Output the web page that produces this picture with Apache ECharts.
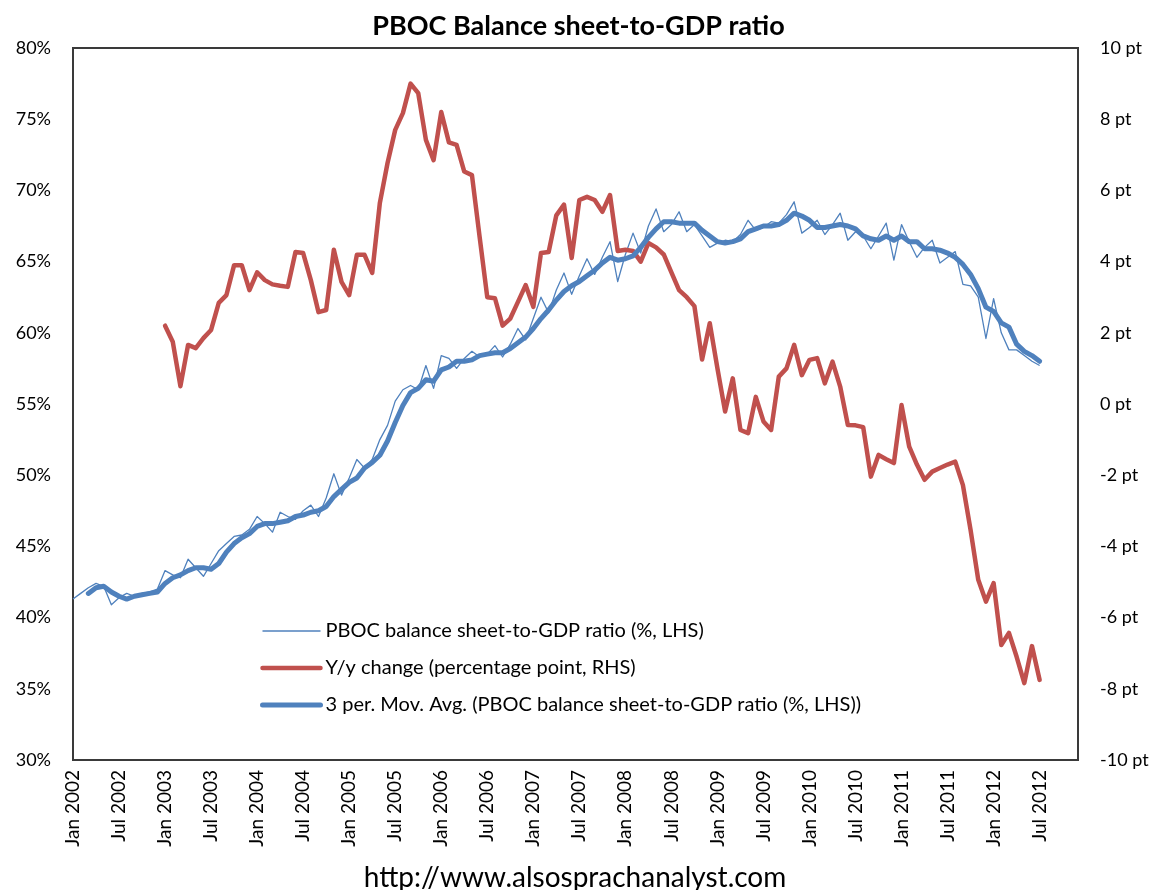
<!DOCTYPE html>
<html>
<head>
<meta charset="utf-8">
<title>PBOC Balance sheet-to-GDP ratio</title>
<script src="https://cdn.jsdelivr.net/npm/echarts@6/dist/echarts.min.js"></script>
<style>
  html, body { margin: 0; padding: 0; background: #fff; }
  #chart { width: 1157px; height: 890px; }
</style>
</head>
<body>
<div id="chart"></div>
<script>
var months = ['Jan','Feb','Mar','Apr','May','Jun','Jul','Aug','Sep','Oct','Nov','Dec'];
var years = [2002,2003,2004,2005,2006,2007,2008,2009,2010,2011,2012];

// PBOC balance sheet-to-GDP ratio, %, Jan 2002 - Jul 2012 (monthly)
var ratio = [
  41.3, 41.7, 42.1, 42.4, 42.2, 40.9, 41.4, 41.7, 41.5, 41.7, 41.8, 42.0,
  43.3, 43.0, 42.8, 44.1, 43.5, 42.9, 43.8, 44.7, 45.2, 45.7, 45.8, 46.2,
  47.1, 46.6, 46.0, 47.4, 47.1, 46.9, 47.5, 47.9, 47.1, 48.4, 50.1, 48.6,
  49.8, 51.1, 50.5, 51.1, 52.5, 53.5, 55.2, 56.0, 56.3, 56.0, 57.7, 56.1,
  58.4, 58.2, 57.5, 58.2, 58.7, 58.3, 58.5, 59.1, 58.3, 59.2, 60.3, 59.5,
  61.0, 62.5, 61.4, 63.0, 64.2, 62.7, 64.0, 65.2, 64.1, 65.3, 66.4, 63.6,
  65.5, 67.0, 65.6, 67.5, 68.7, 67.1, 67.6, 68.5, 67.1, 67.6, 66.8, 66.0,
  66.3, 66.5, 66.4, 66.9, 67.9, 67.2, 67.4, 67.8, 67.7, 68.3, 69.2, 67.0,
  67.4, 67.9, 66.9, 67.6, 68.4, 66.5, 67.1, 66.8, 65.9, 66.8, 67.7, 65.1,
  67.6, 66.4, 65.3, 66.0, 66.5, 64.9, 65.3, 65.7, 63.4, 63.3, 62.5, 59.6,
  62.4, 60.0, 58.8, 58.8, 58.4, 58.0, 57.7
];

// Y/y change, percentage points (RHS), starts Jan 2003
var yoy = [
  null, null, null, null, null, null, null, null, null, null, null, null,
  2.2, 1.75, 0.5, 1.66, 1.57, 1.85, 2.08, 2.84, 3.06, 3.9, 3.9, 3.2,
  3.7, 3.48, 3.36, 3.32, 3.29, 4.27, 4.24, 3.48, 2.58, 2.64, 4.33, 3.43,
  3.06, 4.19, 4.19, 3.68, 5.65, 6.77, 7.7, 8.17, 9.0, 8.73, 7.42, 6.85,
  8.2, 7.35, 7.28, 6.53, 6.43, 4.7, 3.0, 2.97, 2.2, 2.4, 2.87, 3.34,
  2.73, 4.24, 4.27, 5.3, 5.6, 4.1, 5.73, 5.82, 5.73, 5.4, 5.87, 4.3,
  4.33, 4.3, 4.0, 4.52, 4.4, 4.2, 3.7, 3.2, 3.0, 2.75, 1.25, 2.27,
  1.0, -0.21, 0.72, -0.73, -0.82, 0.2, -0.49, -0.73, 0.77, 1.0, 1.66, 0.81,
  1.24, 1.29, 0.58, 1.19, 0.49, -0.59, -0.6, -0.65, -2.04, -1.43, -1.55, -1.66,
  -0.03, -1.2, -1.7, -2.13, -1.9, -1.8, -1.7, -1.62, -2.28, -3.54, -4.94, -5.55,
  -5.03, -6.77, -6.43, -7.1, -7.84, -6.8, -7.75
];

// 3 per. moving average of the ratio
var movAvg = [
  null, null, 41.7, 42.1, 42.2, 41.8, 41.5, 41.3, 41.5, 41.6, 41.7, 41.8,
  42.4, 42.8, 43.0, 43.3, 43.5, 43.5, 43.4, 43.8, 44.6, 45.2, 45.6, 45.9,
  46.4, 46.6, 46.6, 46.7, 46.8, 47.1, 47.2, 47.4, 47.5, 47.8, 48.5, 49.0,
  49.5, 49.8, 50.5, 50.9, 51.4, 52.4, 53.7, 54.9, 55.8, 56.1, 56.7, 56.6,
  57.4, 57.6, 58.0, 58.0, 58.1, 58.4, 58.5, 58.6, 58.6, 58.9, 59.3, 59.7,
  60.3, 61.0, 61.6, 62.3, 62.9, 63.3, 63.6, 64.0, 64.4, 64.9, 65.3, 65.1,
  65.2, 65.4, 66.0, 66.7, 67.3, 67.8, 67.8, 67.7, 67.7, 67.7, 67.2, 66.8,
  66.4, 66.3, 66.4, 66.6, 67.1, 67.3, 67.5, 67.5, 67.6, 67.9, 68.4, 68.2,
  67.9, 67.4, 67.4, 67.5, 67.6, 67.5, 67.3, 66.8, 66.6, 66.5, 66.8, 66.5,
  66.8, 66.4, 66.4, 65.9, 65.9, 65.8, 65.6, 65.3, 64.8, 64.1, 63.1, 61.8,
  61.5, 60.7, 60.4, 59.2, 58.7, 58.4, 58.0
];

var leftTicks = { min: 30, max: 80, step: 5 };
var rightTicks = { min: -10, max: 10, step: 2 };

var dates = [];
years.forEach(function (y) {
  months.forEach(function (m) { dates.push(m + ' ' + y); });
});

var names = [
  'PBOC balance sheet-to-GDP ratio (%, LHS)',
  'Y/y change (percentage point, RHS)',
  '3 per. Mov. Avg. (PBOC balance sheet-to-GDP ratio (%, LHS))'
];

var font = "Lato, 'Liberation Sans', sans-serif";
var myChart = echarts.init(document.getElementById('chart'));

myChart.setOption({
  backgroundColor: '#fff',
  animation: false,
  textStyle: { fontFamily: font, color: '#000' },
  title: [
    {
      text: 'PBOC Balance sheet-to-GDP ratio',
      left: 'center', top: 8,
      textStyle: { fontFamily: font, fontSize: 27, fontWeight: 'bold', color: '#000' }
    },
    {
      text: 'http://www.alsosprachanalyst.com',
      left: 570, top: 859, textAlign: 'center',
      textStyle: { fontFamily: font, fontSize: 28, fontWeight: 'normal', color: '#000' }
    }
  ],
  legend: {
    orient: 'vertical',
    left: 255, top: 616,
    itemWidth: 58, itemHeight: 14, itemGap: 17,
    itemStyle: { opacity: 0 },
    textStyle: { fontFamily: font, fontSize: 20, color: '#000' },
    data: [
      { name: names[0], itemStyle: { opacity: 0 }, lineStyle: { width: 1.3, color: '#4F81BD' } },
      { name: names[1], itemStyle: { opacity: 0 }, lineStyle: { width: 4.5, color: '#C0504D' } },
      { name: names[2], itemStyle: { opacity: 0 }, lineStyle: { width: 5, color: '#4F81BD' } }
    ]
  },
  grid: {
    left: 73, right: 79, top: 48, bottom: 130,
    show: true, borderColor: '#3a3a3a', borderWidth: 2, backgroundColor: '#fff'
  },
  xAxis: {
    type: 'category',
    data: dates,
    boundaryGap: false,
    axisLine: { show: true, onZero: false, lineStyle: { color: '#3a3a3a', width: 2 } },
    axisTick: { show: false },
    axisLabel: { interval: 5, rotate: 90, fontSize: 19, margin: 10, color: '#000', fontFamily: font },
    splitLine: { show: false }
  },
  yAxis: [
    {
      type: 'value',
      min: leftTicks.min, max: leftTicks.max, interval: leftTicks.step,
      axisLine: { show: true, lineStyle: { color: '#3a3a3a', width: 2 } },
      axisTick: { show: false },
      splitLine: { show: false },
      axisLabel: { formatter: '{value}%', fontSize: 18, margin: 22, color: '#000', fontFamily: font }
    },
    {
      type: 'value',
      min: rightTicks.min, max: rightTicks.max, interval: rightTicks.step,
      axisLine: { show: true, lineStyle: { color: '#3a3a3a', width: 2 } },
      axisTick: { show: false },
      splitLine: { show: false },
      axisLabel: { formatter: '{value} pt', fontSize: 18, margin: 22, color: '#000', fontFamily: font }
    }
  ],
  series: [
    {
      name: names[0],
      type: 'line',
      data: ratio,
      symbol: 'none',
      z: 2,
      itemStyle: { color: '#4F81BD' },
      lineStyle: { color: '#4F81BD', width: 1.3, join: 'round' }
    },
    {
      name: names[1],
      type: 'line',
      yAxisIndex: 1,
      data: yoy,
      symbol: 'none',
      z: 3,
      itemStyle: { color: '#C0504D' },
      lineStyle: { color: '#C0504D', width: 4.5, join: 'round', cap: 'round' }
    },
    {
      name: names[2],
      type: 'line',
      data: movAvg,
      symbol: 'none',
      z: 4,
      itemStyle: { color: '#4F81BD' },
      lineStyle: { color: '#4F81BD', width: 5, join: 'round', cap: 'round' }
    }
  ]
});
</script>
</body>
</html>
